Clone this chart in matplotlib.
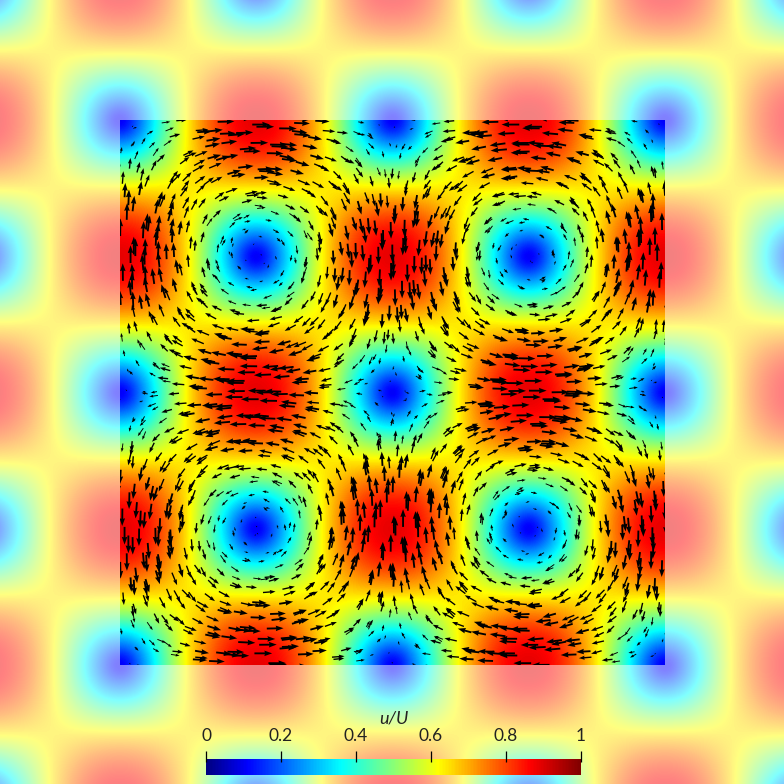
import matplotlib
matplotlib.use("Agg")
import matplotlib.pyplot as plt
import numpy as np
from matplotlib.colors import LinearSegmentedColormap, Normalize
from matplotlib.cm import ScalarMappable
from matplotlib.patches import Rectangle

plt.rcParams['font.family'] = ['Lato', 'DejaVu Sans']

speed_quarter = [
    [0.00, 0.18, 0.34, 0.50, 0.64, 0.75, 0.83, 0.88, 0.90],
    [0.18, 0.24, 0.37, 0.51, 0.64, 0.74, 0.82, 0.87, 0.88],
    [0.34, 0.37, 0.45, 0.54, 0.64, 0.72, 0.78, 0.82, 0.83],
    [0.50, 0.51, 0.54, 0.59, 0.64, 0.68, 0.72, 0.74, 0.75],
    [0.64, 0.64, 0.64, 0.64, 0.64, 0.64, 0.64, 0.64, 0.64],
    [0.75, 0.74, 0.72, 0.68, 0.64, 0.59, 0.54, 0.51, 0.50],
    [0.83, 0.82, 0.78, 0.72, 0.64, 0.54, 0.45, 0.37, 0.34],
    [0.88, 0.87, 0.82, 0.74, 0.64, 0.51, 0.37, 0.24, 0.18],
    [0.90, 0.88, 0.83, 0.75, 0.64, 0.50, 0.34, 0.18, 0.00],
]

# x velocity of the arrows in one quarter cell
u_quarter = [
    [0.06, 0.19, 0.31, 0.43, 0.54, 0.63, 0.72, 0.79, 0.84, 0.88, 0.89],
    [0.06, 0.19, 0.31, 0.42, 0.53, 0.62, 0.70, 0.77, 0.82, 0.86, 0.88],
    [0.06, 0.18, 0.29, 0.40, 0.51, 0.60, 0.68, 0.74, 0.79, 0.82, 0.84],
    [0.06, 0.17, 0.28, 0.38, 0.47, 0.56, 0.63, 0.69, 0.74, 0.77, 0.79],
    [0.05, 0.15, 0.25, 0.35, 0.43, 0.51, 0.58, 0.63, 0.68, 0.70, 0.72],
    [0.05, 0.14, 0.22, 0.30, 0.38, 0.45, 0.51, 0.56, 0.60, 0.62, 0.63],
    [0.04, 0.12, 0.19, 0.26, 0.32, 0.38, 0.43, 0.47, 0.50, 0.53, 0.54],
    [0.03, 0.09, 0.15, 0.21, 0.26, 0.30, 0.35, 0.38, 0.40, 0.42, 0.43],
    [0.02, 0.07, 0.11, 0.15, 0.19, 0.22, 0.25, 0.28, 0.29, 0.31, 0.31],
    [0.01, 0.04, 0.07, 0.09, 0.11, 0.14, 0.15, 0.17, 0.18, 0.19, 0.19],
    [0.00, 0.01, 0.02, 0.03, 0.04, 0.05, 0.05, 0.06, 0.06, 0.06, 0.06],
]

# arrows are not on a lattice in the original, these shift them about
shift_x = [0.006, -0.011, 0.013, -0.003, 0.008, -0.014, 0.001, 0.011, -0.007, 0.014, -0.010, 0.004, -0.006]
shift_y = [-0.008, 0.013, 0.003, -0.014, 0.010, -0.004, 0.014, -0.011, 0.006, -0.001, 0.008]

# arrows get fatter with speed: upper speed of each group and shaft width
speed_bins = [0.25, 0.5, 0.7, 2.0]
shaft_widths = [0.0011, 0.0017, 0.0025, 0.0034]

cbar_ticks = [0, 0.2, 0.4, 0.6, 0.8, 1]
cbar_labels = ['0', '0.2', '0.4', '0.6', '0.8', '1']

cmap = LinearSegmentedColormap.from_list('jet_pv', [
    (0.0, (0, 0, 0.5)), (0.11, (0, 0, 1)), (0.36, (0, 1, 1)),
    (0.62, (1, 1, 0)), (0.865, (1, 0, 0)), (1.0, (0.5, 0, 0))])
norm = Normalize(0, 1)

fig = plt.figure(figsize=(7.84, 7.84), dpi=100)
ax = fig.add_axes([0, 0, 1, 1])

# mirror the quarter cell out past the figure edges
speed = np.pad(np.array(speed_quarter), (8, 32), mode='reflect')
half = 1 / 64
extent = (-0.25 - half, 1.25 + half, -0.25 - half, 1.25 + half)
ax.imshow(speed, cmap=cmap, norm=norm, origin='lower', extent=extent,
          interpolation='bicubic', alpha=0.5, zorder=1)
box = Rectangle((0, 0), 1, 1, transform=ax.transData, fc='none', ec='none')
ax.add_patch(box)
im = ax.imshow(speed, cmap=cmap, norm=norm, origin='lower', extent=extent,
               interpolation='bicubic', zorder=2)
im.set_clip_path(box)

# arrows, full domain built from the quarter cell with the sign flips of the vortices
t = np.array(u_quarter)
row = np.hstack([t, t[:, ::-1], -t, -t[:, ::-1]])
u = np.vstack([row, -row[::-1], -row, row[::-1]])
v = -u.T
n = u.shape[0]
J, I = np.mgrid[0:n, 0:n]
x = (I + 0.5) / n + np.array(shift_x)[(3 * I + 5 * J) % 13]
y = (J + 0.5) / n + np.array(shift_y)[(7 * I + 2 * J) % 11]
mag = np.hypot(u, v)

low = 0
for high, w in zip(speed_bins, shaft_widths):
    m = (mag >= low) & (mag < high)
    q = ax.quiver(x[m], y[m], u[m], v[m], color='black', angles='xy', scale_units='xy',
                  scale=1 / 0.0365, units='xy', width=w, headwidth=3.0, headlength=4.2,
                  headaxislength=3.9, minlength=0.3, pivot='tail', zorder=3)
    q.set_clip_path(box)
    low = high

ax.set_xlim(-120 / 545, 664 / 545)
ax.set_ylim(-119 / 545, 665 / 545)
ax.axis('off')

# colour bar sits on top of the field
cax = fig.add_axes([206 / 784, 1 - 775 / 784, 375 / 784, 16 / 784])
cbar = fig.colorbar(ScalarMappable(norm=norm, cmap=cmap), cax=cax, orientation='horizontal')
cbar.outline.set_visible(False)
cbar.set_ticks(cbar_ticks, labels=cbar_labels)
cax.xaxis.set_ticks_position('top')
cax.tick_params(axis='x', length=0, pad=10.5, labelsize=12.5, labelcolor='#222222')
cax.vlines(cbar_ticks, 0.81, 1.5, transform=cax.get_xaxis_transform(), color='black',
           lw=0.9, clip_on=False)
fig.text(394 / 784, 1 - 719 / 784, 'u/U', ha='center', va='center', fontsize=13,
         style='italic', color='#222222')

fig.savefig('out.png', dpi=100)
